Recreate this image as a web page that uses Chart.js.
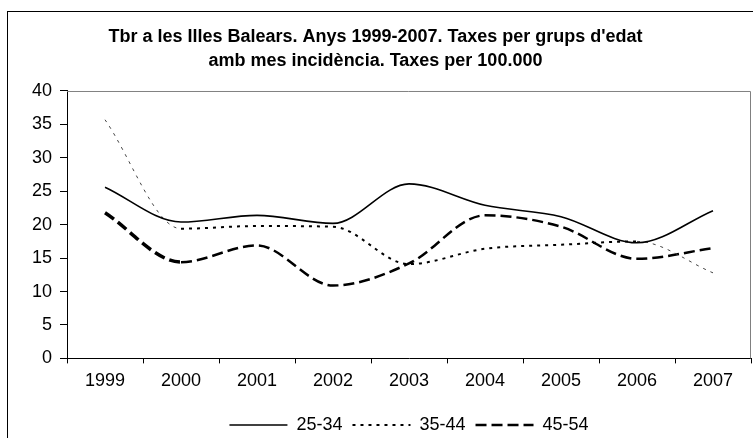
<!DOCTYPE html>
<html>
<head>
<meta charset="utf-8">
<script src="https://cdn.jsdelivr.net/npm/chart.js@4"></script>
<style>
  html, body { margin: 0; padding: 0; background: #fff; }
  #wrap { width: 753px; height: 438px; }
</style>
</head>
<body>
<div id="wrap"><canvas id="chart" width="753" height="438"></canvas></div>
<script>
// Data
const years = ['1999', '2000', '2001', '2002', '2003', '2004', '2005', '2006', '2007'];
const age2534 = [25.6, 20.4, 21.4, 20.2, 26.1, 22.9, 21.2, 17.3, 22.1];
const age3544 = [35.7, 19.4, 19.8, 19.7, 14.1, 16.4, 17.0, 17.5, 12.8];
const age4554 = [21.8, 14.4, 16.9, 10.9, 14.2, 21.4, 19.7, 14.9, 16.5];
const yTicks = [0, 5, 10, 15, 20, 25, 30, 35, 40];

const titleLines = [
  "Tbr a les Illes Balears. Anys 1999-2007. Taxes per grups d'edat",
  'amb mes incidència. Taxes per 100.000'
];

// outer frame, grey top/right edge of the plot area, legend centred on the plot
const framePlugin = {
  id: 'frame',
  afterLayout(chart) {
    const lg = chart.legend;
    lg.left = chart.chartArea.left;
    lg.right = chart.chartArea.right;
    lg.top += 7;
    lg.bottom += 7;
  },
  beforeDraw(chart) {
    const ctx = chart.ctx;
    ctx.save();
    ctx.strokeStyle = '#000';
    ctx.lineWidth = 1;
    ctx.strokeRect(7.5, 11.5, 800, 500);
    ctx.restore();
  },
  beforeDatasetsDraw(chart) {
    const { ctx, chartArea } = chart;
    ctx.save();
    ctx.strokeStyle = '#808080';
    ctx.lineWidth = 1;
    ctx.beginPath();
    ctx.moveTo(chartArea.left, chartArea.top + 0.5);
    ctx.lineTo(chartArea.right - 0.5, chartArea.top + 0.5);
    ctx.lineTo(chartArea.right - 0.5, chartArea.bottom);
    ctx.stroke();
    ctx.restore();
  }
};

const thinEnds = ctx => (ctx.p0DataIndex === 0 || ctx.p0DataIndex === 7);

const chart = new Chart(document.getElementById('chart').getContext('2d'), {
  type: 'line',
  data: {
    labels: years,
    datasets: [
      {
        label: '25-34',
        data: age2534,
        borderColor: '#000',
        borderWidth: 1.6,
        pointRadius: 0,
        pointStyle: 'line',
        cubicInterpolationMode: 'monotone',
      },
      {
        label: '35-44',
        data: age3544,
        borderColor: '#000',
        borderWidth: 2,
        borderDash: [3, 5],
        pointRadius: 0,
        pointStyle: 'line',
        cubicInterpolationMode: 'monotone',
        segment: {
          borderWidth: ctx => thinEnds(ctx) ? 1 : undefined,
          borderColor: ctx => thinEnds(ctx) ? '#444' : undefined,
        },
      },
      {
        label: '45-54',
        data: age4554,
        borderColor: '#000',
        borderWidth: 2.5,
        borderDash: [11, 5],
        pointRadius: 0,
        pointStyle: 'line',
        cubicInterpolationMode: 'monotone',
        segment: {
          borderWidth: ctx => ctx.p0DataIndex === 0 ? 3.5 : undefined,
        },
      },
    ],
  },
  options: {
    responsive: false,
    animation: false,
    layout: {
      padding: { left: 0, right: 2, top: 0, bottom: 1 },
    },
    plugins: {
      title: {
        display: true,
        text: titleLines,
        color: '#000',
        font: { family: 'Liberation Sans', size: 18, weight: 'bold', lineHeight: 1.333 },
        padding: { top: 25, bottom: 18 },
      },
      legend: {
        position: 'bottom',
        labels: {
          color: '#000',
          font: { family: 'Liberation Sans', size: 18 },
          usePointStyle: true,
          pointStyleWidth: 58,
          padding: 10,
          generateLabels(chart) {
            const items = Chart.defaults.plugins.legend.labels.generateLabels(chart);
            items.forEach(item => {
              const ds = chart.data.datasets[item.datasetIndex];
              item.lineDash = ds.borderDash || [];
              item.lineWidth = ds.borderWidth;
              item.strokeStyle = '#000';
            });
            return items;
          },
        },
      },
      tooltip: { enabled: false },
    },
    scales: {
      x: {
        offset: true,
        grid: {
          offset: true,
          drawOnChartArea: false,
          color: '#000',
          tickLength: 5,
        },
        border: { color: '#000', width: 1 },
        ticks: {
          color: '#000',
          font: { family: 'Liberation Sans', size: 18 },
          padding: 7,
          maxRotation: 0,
        },
      },
      y: {
        min: 0,
        max: 40,
        afterFit(scale) { scale.width = 67; },
        afterBuildTicks(scale) { scale.ticks = yTicks.map(v => ({ value: v })); },
        grid: {
          drawOnChartArea: false,
          color: '#000',
          tickLength: 7,
        },
        border: { color: '#000', width: 1 },
        ticks: {
          color: '#000',
          font: { family: 'Liberation Sans', size: 18 },
          padding: 8,
        },
      },
    },
  },
  plugins: [framePlugin],
});
</script>
</body>
</html>
